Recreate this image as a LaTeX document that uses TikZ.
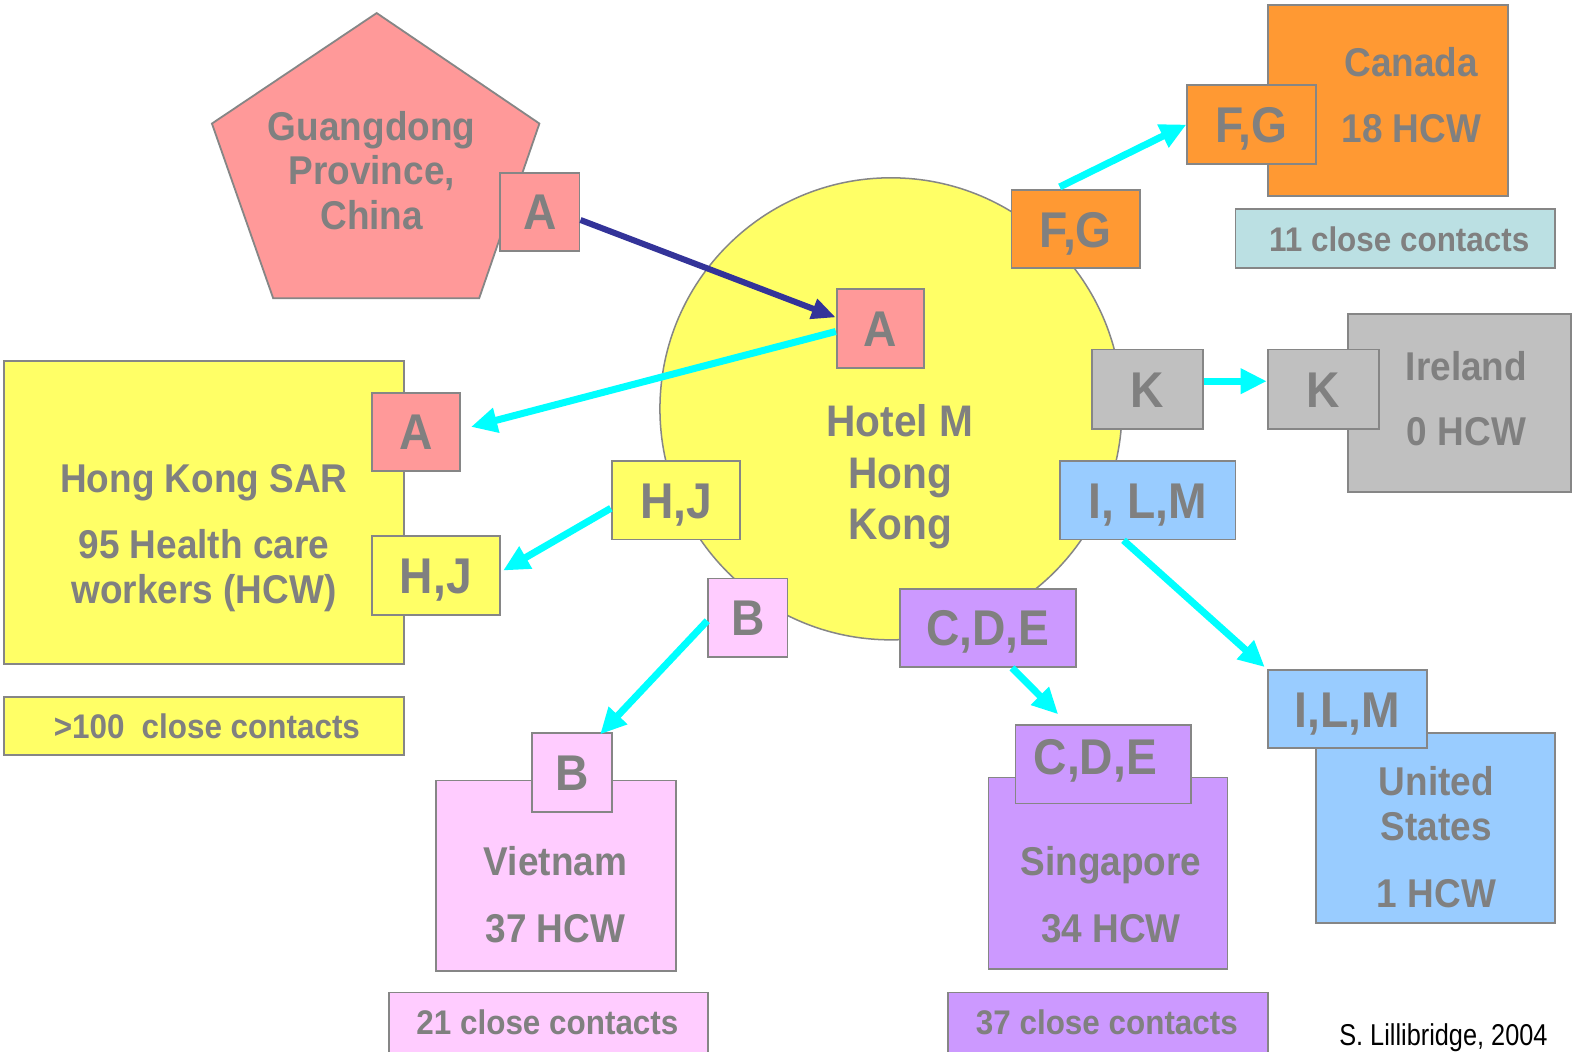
\documentclass[tikz,border=0pt]{standalone}
\usepackage{fontspec}
\setmainfont{Liberation Sans}[FakeStretch=0.92]
\newfontfamily\credfont{Liberation Sans}[FakeStretch=0.84]
\usetikzlibrary{arrows.meta,calc}

\definecolor{edge}{HTML}{868686}
\definecolor{ink}{HTML}{808080}
\definecolor{salmon}{HTML}{FF9999}
\definecolor{sun}{HTML}{FFFF66}
\definecolor{tangerine}{HTML}{FF9933}
\definecolor{mist}{HTML}{BBE0E3}
\definecolor{silver}{HTML}{C0C0C0}
\definecolor{sky}{HTML}{99CCFF}
\definecolor{lilac}{HTML}{CC99FF}
\definecolor{blush}{HTML}{FFCCFF}
\definecolor{aqua}{HTML}{00FFFF}
\definecolor{navy}{HTML}{333399}

\newcommand\lblfont{\fontsize{50}{54}\selectfont\bfseries}
\newcommand\wrdfont{\fontsize{40}{46}\selectfont\bfseries}
\newcommand\hotelfont{\fontsize{44}{50}\selectfont\bfseries}
\newcommand\ccfont{\fontsize{34}{40}\selectfont\bfseries}

\tikzset{
  box/.style={draw=edge, line width=1.8pt, inner sep=0pt, text=ink,
    font=\lblfont, text height=35.8pt, text depth=0pt},
  word/.style={text=ink, font=\wrdfont, anchor=base, inner sep=0pt},
  hword/.style={word, font=\hotelfont},
  ccword/.style={word, font=\ccfont},
  flow/.style={draw=aqua, line width=7pt, -{Triangle[length=26pt,width=24pt]}},
  seed/.style={draw=navy, line width=6pt, -{Triangle[length=24pt,width=20pt]}},
}

% box from (x1,y1) to (x2,y2), top-left origin
\newcommand\tagbox[7]{%
  \node[box, fill=#6, minimum width={(#4)-(#2)}, minimum height={(#5)-(#3)}]
    (#1) at ({((#2)+(#4))/2},{((#3)+(#5))/2}) {#7};}

\begin{document}
\begin{tikzpicture}[x=1pt,y=-1pt]
\clip (0,0) rectangle (1568,1047);
\fill[white] (0,0) rectangle (1568,1047);

% Guangdong province
\filldraw[fill=salmon, draw=edge, line width=1.8pt, line join=miter]
  (375,13) -- (537,123) -- (477,297) -- (272,297) -- (211,123) -- cycle;
\node[word] (gd1) at (370,140) {Guangdong};
\node[word] (gd2) at (370,184) {Province,};
\node[word] (gd3) at (370,228) {China};
\tagbox{Ag}{498}{172}{577}{250}{salmon}{A}

% Hotel M
\node[circle, draw=edge, line width=1.5pt, fill=sun, minimum size=460pt, inner sep=0pt]
  (hotel) at (887,407) {};
\node[hword] (ho1) at (896,435) {Hotel M};
\node[hword] (ho2) at (896,486) {Hong};
\node[hword] (ho3) at (896,537) {Kong};
\tagbox{Ah}{833}{288}{920}{366}{salmon}{A}
\tagbox{FGh}{1007}{189}{1135}{267}{tangerine}{F,G}
\tagbox{Kh}{1087}{348}{1198}{427}{silver}{K}
\tagbox{ILMh}{1055}{459}{1230}{537}{sky}{I, L,M}
\tagbox{CDEh}{896}{586}{1071}{664}{lilac}{C,D,E}
\tagbox{Bh}{705}{576}{784}{654}{blush}{B}
\tagbox{HJh}{609}{459}{737}{537}{sun}{H,J}

% Canada
\tagbox{ca}{1262}{5}{1501}{195}{tangerine}{}
\node[word] (ca1) at (1405,76) {Canada};
\node[word] (ca2) at (1405,142) {18 HCW};
\tagbox{FGc}{1182}{85}{1310}{163}{tangerine}{F,G}
\tagbox{cac}{1230}{208}{1548}{267}{mist}{}
\node[ccword] (cat) at (1393,250) {11 close contacts};

% Ireland
\tagbox{ie}{1342}{313}{1564}{490}{silver}{}
\node[word] (ie1) at (1460,379) {Ireland};
\node[word] (ie2) at (1460,444) {0 HCW};
\tagbox{Ki}{1262}{348}{1373}{427}{silver}{K}

% United States
\tagbox{us}{1310}{730}{1548}{919}{sky}{}
\node[word] (us1) at (1430,792) {United};
\node[word] (us2) at (1430,837) {States};
\node[word] (us3) at (1430,903) {1 HCW};
\tagbox{ILMu}{1262}{667}{1421}{745}{sky}{I,L,M}

% Singapore
\tagbox{sg}{984}{774}{1222}{965}{lilac}{}
\node[word] (sg1) at (1106,872) {Singapore};
\node[word] (sg2) at (1106,938) {34 HCW};
\tagbox{CDEs}{1011}{722}{1186}{800}{lilac}{\hspace*{-16pt}\raisebox{8pt}{C,D,E}}
\tagbox{sgc}{944}{988}{1262}{1060}{lilac}{}
\node[ccword] (sgt) at (1102,1030) {37 close contacts};

% Vietnam
\tagbox{vn}{434}{777}{673}{967}{blush}{}
\node[word] (vn1) at (553,872) {Vietnam};
\node[word] (vn2) at (553,938) {37 HCW};
\tagbox{Bv}{530}{730}{609}{808}{blush}{B}
\tagbox{vnc}{387}{988}{705}{1060}{blush}{}
\node[ccword] (vnt) at (545,1030) {21 close contacts};

% Hong Kong SAR
\tagbox{hk}{4}{359}{402}{661}{sun}{}
\node[word] (hk1) at (203,490) {Hong Kong SAR};
\node[word] (hk2) at (203,556) {95 Health care};
\node[word] (hk3) at (203,601) {workers (HCW)};
\tagbox{Ak}{370}{391}{458}{469}{salmon}{A}
\tagbox{HJk}{370}{534}{498}{612}{sun}{H,J}
\tagbox{hkc}{4}{694}{402}{752}{sun}{}
\node[ccword] (hkt) at (206,735) {>100\enspace close contacts};

% spread of infection
\draw[seed] ($(Ag.east)+(0,8)$) -- ($(Ah.west)+(0,-11)$);
\draw[flow] ($(Ah.west)+(0,3)$) -- ($(Ak.east)+(10,-5)$);
\draw[flow] ($(HJh.west)+(0,8)$) -- ($(HJk.east)+(2,-5)$);
\draw[flow] ($(Bh.west)+(0,3)$) -- ($(Bv.north)+(28,2)$);
\draw[flow] ($(CDEh.south)+(24,0)$) -- ($(CDEs.north)+(-45,-10)$);
\draw[flow] ($(ILMh.south)+(-24,0)$) -- ($(ILMu.north west)+(-2,-2)$);
\draw[flow] ($(Kh.east)+(0,-8)$) -- ($(Ki.west)+(0,-8)$);
\draw[flow] ($(FGh.north)+(-16,-2)$) -- (FGc.west);

% credit
\node[anchor=base, inner sep=0pt, font=\credfont\fontsize{30}{34}\selectfont] (credit)
  at (1437,1041) {S. Lillibridge, 2004};
\end{tikzpicture}
\end{document}
